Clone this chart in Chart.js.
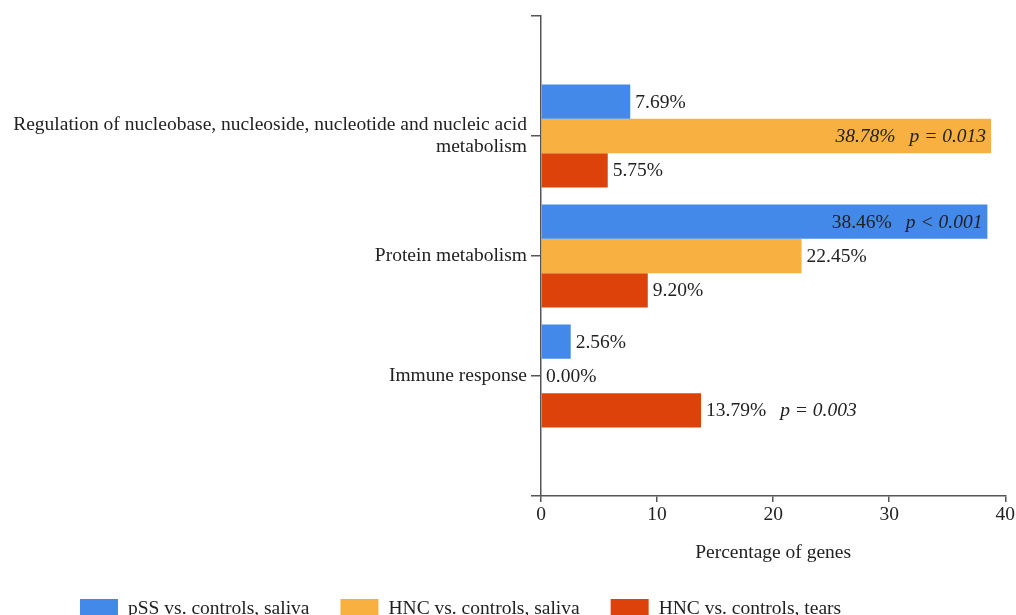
<!DOCTYPE html>
<html>
<head>
<meta charset="utf-8">
<title>Percentage of genes by biological process</title>
<script src="https://cdn.jsdelivr.net/npm/chart.js@4/dist/chart.umd.min.js"></script>
<style>
  html, body { margin: 0; padding: 0; background: #ffffff; }
  #wrap { width: 1016px; height: 615px; position: relative; }
</style>
</head>
<body>
<div id="wrap"><canvas id="chart"></canvas></div>
<script>
// Biological process categories (top to bottom)
const categories = [
  ['Regulation of nucleobase, nucleoside, nucleotide and nucleic acid', 'metabolism'],
  'Protein metabolism',
  'Immune response'
];

// Percentage of genes per comparison
const pssSaliva = [7.69, 38.46, 2.56];
const hncSaliva = [38.78, 22.45, 0.00];
const hncTears  = [5.75, 9.20, 13.79];

// Significance annotations per comparison
const pssSalivaP = [null, 'p < 0.001', null];
const hncSalivaP = ['p = 0.013', null, null];
const hncTearsP  = [null, null, 'p = 0.003'];

// Series names
const seriesNames = ['pSS vs. controls, saliva', 'HNC vs. controls, saliva', 'HNC vs. controls, tears'];

// X axis ticks
const xTicks = [0, 10, 20, 30, 40];

const FONT = "'Liberation Serif', 'Times New Roman', serif";
const TEXT = '#222222';
const AXIS = '#555555';

Chart.defaults.font.family = FONT;
Chart.defaults.color = TEXT;

// Values printed next to (or inside) each bar, plus optional p-values
const valueLabels = {
  id: 'valueLabels',
  afterDatasetsDraw(chart) {
    const { ctx, chartArea } = chart;
    const size = 19.5;
    const gap = 14;
    chart.data.datasets.forEach((ds, di) => {
      const meta = chart.getDatasetMeta(di);
      if (meta.hidden) return;
      meta.data.forEach((bar, i) => {
        const value = ds.data[i];
        const parts = [{ text: value.toFixed(2) + '%', italic: !!(ds.italicValue && ds.italicValue[i]) }];
        if (ds.pValues && ds.pValues[i]) parts.push({ text: ds.pValues[i], italic: true });
        ctx.save();
        ctx.textBaseline = 'middle';
        ctx.fillStyle = TEXT;
        const widths = parts.map(p => {
          ctx.font = (p.italic ? 'italic ' : '') + size + 'px ' + FONT;
          return ctx.measureText(p.text).width;
        });
        const total = widths.reduce((a, b) => a + b, 0) + gap * (parts.length - 1);
        let x = bar.x + 5;
        if (x + total > chartArea.right) x = bar.x - 5 - total;
        parts.forEach((p, k) => {
          ctx.font = (p.italic ? 'italic ' : '') + size + 'px ' + FONT;
          ctx.textAlign = 'left';
          ctx.fillText(p.text, x, bar.y + 1);
          x += widths[k] + gap;
        });
        ctx.restore();
      });
    });
  }
};

// Legend row along the bottom edge
const bottomLegend = {
  id: 'bottomLegend',
  afterDraw(chart) {
    const { ctx } = chart;
    const boxW = 38, boxH = 19, top = 599;
    let x = 80;
    ctx.save();
    ctx.font = '19.5px ' + FONT;
    ctx.textBaseline = 'middle';
    ctx.textAlign = 'left';
    chart.data.datasets.forEach(ds => {
      ctx.fillStyle = ds.backgroundColor;
      ctx.fillRect(x, top, boxW, boxH);
      ctx.fillStyle = TEXT;
      ctx.fillText(ds.label, x + boxW + 10, top + boxH / 2);
      x += boxW + 10 + ctx.measureText(ds.label).width + 31;
    });
    ctx.restore();
  }
};

new Chart(document.getElementById('chart'), {
  type: 'bar',
  data: {
    labels: categories.map((_, i) => i),
    datasets: [
      { label: seriesNames[0], data: pssSaliva, pValues: pssSalivaP, backgroundColor: '#4389e9' },
      { label: seriesNames[1], data: hncSaliva, pValues: hncSalivaP, italicValue: [true, false, false], backgroundColor: '#f8b140' },
      { label: seriesNames[2], data: hncTears, pValues: hncTearsP, backgroundColor: '#dc420a' }
    ]
  },
  options: {
    indexAxis: 'y',
    responsive: true,
    maintainAspectRatio: false,
    animation: false,
    categoryPercentage: 0.857,
    barPercentage: 1,
    layout: { padding: { top: 16, right: 0, bottom: 48, left: 0 } },
    plugins: {
      legend: { display: false },
      tooltip: { enabled: false }
    },
    scales: {
      y: {
        type: 'linear',
        reverse: true,
        min: -1,
        max: categories.length,
        offset: false,
        afterBuildTicks(scale) {
          const t = [];
          for (let v = -1; v <= categories.length; v++) t.push({ value: v });
          scale.ticks = t;
        },
        afterFit(scale) { scale.width = 541; },
        ticks: {
          font: { size: 19.5, lineHeight: 1.1 },
          color: TEXT,
          padding: 4,
          callback: (v) => (Number.isInteger(v) && categories[v] !== undefined) ? categories[v] : ''
        },
        grid: { offset: false, drawOnChartArea: false, drawTicks: true, tickLength: 10, color: AXIS, lineWidth: 1.5 },
        border: { display: true, color: AXIS, width: 1.5 }
      },
      x: {
        type: 'linear',
        min: xTicks[0],
        max: xTicks[xTicks.length - 1],
        afterBuildTicks(scale) { scale.ticks = xTicks.map(v => ({ value: v })); },
        afterFit(scale) { scale.height = 71; },
        ticks: { font: { size: 19.5 }, color: TEXT, padding: 1 },
        grid: { drawOnChartArea: false, drawTicks: true, tickLength: 6, color: AXIS, lineWidth: 1.5 },
        border: { display: true, color: AXIS, width: 1.5 },
        title: { display: true, text: 'Percentage of genes', font: { size: 19.5 }, color: TEXT, padding: { top: 0, bottom: 2 } }
      }
    }
  },
  plugins: [valueLabels, bottomLegend]
});
</script>
</body>
</html>
